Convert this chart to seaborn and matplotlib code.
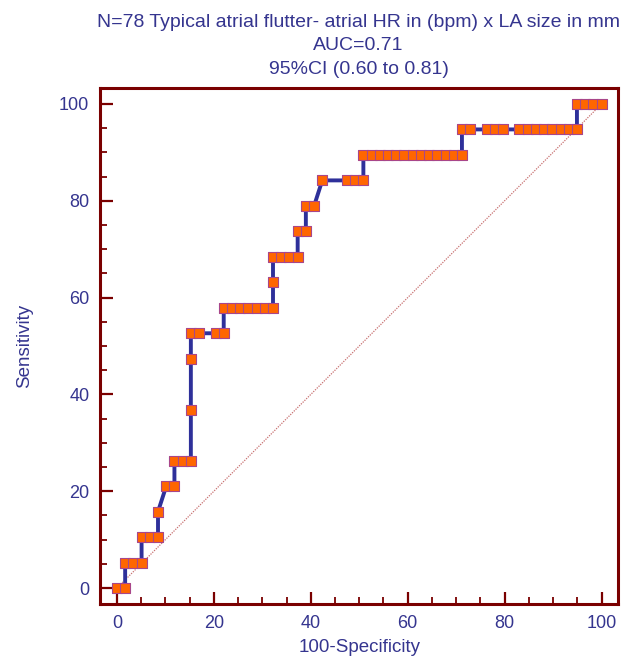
import numpy as np
import pandas as pd
import matplotlib
matplotlib.use('Agg')
import matplotlib.pyplot as plt
import seaborn as sns
from matplotlib.ticker import MultipleLocator

sns.set_style("white")
plt.rcParams['font.family'] = ['Liberation Sans', 'DejaVu Sans']

# ROC points (100-Specificity, Sensitivity)
fpr = [0.00, 1.69,
       1.69, 3.39, 5.08,
       5.08, 6.78, 8.47,
       8.47,
       10.17, 11.86,
       11.86, 13.56, 15.25,
       15.25, 15.25,
       15.25, 16.95, 20.34, 22.03,
       22.03, 23.73, 25.42, 27.12, 28.81, 30.51, 32.20,
       32.20,
       32.20, 33.90, 35.59, 37.29,
       37.29, 38.98,
       38.98, 40.68,
       42.37, 47.46, 49.15, 50.85,
       50.85, 52.54, 54.24, 55.93, 57.63, 59.32, 61.02, 62.71, 64.41, 66.10, 67.80, 69.49, 71.19,
       71.19, 72.88, 76.27, 77.97, 79.66, 83.05, 84.75, 86.44, 88.14, 89.83, 91.53, 93.22, 94.92,
       94.92, 96.61, 98.31, 100.00]
sens = [0.00, 0.00,
        5.26, 5.26, 5.26,
        10.53, 10.53, 10.53,
        15.79,
        21.05, 21.05,
        26.32, 26.32, 26.32,
        36.84, 47.37,
        52.63, 52.63, 52.63, 52.63,
        57.89, 57.89, 57.89, 57.89, 57.89, 57.89, 57.89,
        63.16,
        68.42, 68.42, 68.42, 68.42,
        73.68, 73.68,
        78.95, 78.95,
        84.21, 84.21, 84.21, 84.21,
        89.47, 89.47, 89.47, 89.47, 89.47, 89.47, 89.47, 89.47, 89.47, 89.47, 89.47, 89.47, 89.47,
        94.74, 94.74, 94.74, 94.74, 94.74, 94.74, 94.74, 94.74, 94.74, 94.74, 94.74, 94.74, 94.74,
        100.00, 100.00, 100.00, 100.00]

title_lines = ["N=78 Typical atrial flutter- atrial HR in (bpm) x LA size in mm",
               "AUC=0.71",
               "95%CI (0.60 to 0.81)"]

df = pd.DataFrame({'fpr': fpr, 'sens': sens})

text_col = '#35358f'
frame_col = '#7a0000'

fig = plt.figure(figsize=(6.38, 6.62), dpi=100)
ax = fig.add_axes([0.1575, 0.0876, 0.8112, 0.7795])

# chance diagonal
ax.plot([0, 100], [0, 100], color='#c87070', lw=0.9, ls=(0, (1, 1)), zorder=1)

sns.lineplot(data=df, x='fpr', y='sens', sort=False, estimator=None,
             color='#2e309a', lw=2.8, ax=ax, zorder=2)
sns.scatterplot(data=df, x='fpr', y='sens', marker='s', s=62,
                color='#ff6600', edgecolor='#a8468a', linewidth=0.8, ax=ax, zorder=3)

ax.set_xlim(-3.4, 103.4)
ax.set_ylim(-3.3, 103.3)
ax.xaxis.set_major_locator(MultipleLocator(20))
ax.xaxis.set_minor_locator(MultipleLocator(5))
ax.yaxis.set_major_locator(MultipleLocator(20))
ax.yaxis.set_minor_locator(MultipleLocator(5))
ax.tick_params(which='major', direction='in', length=9, width=1.6, color=frame_col,
               labelsize=13, labelcolor=text_col, pad=8)
ax.tick_params(which='minor', direction='in', length=5, width=1.3, color=frame_col)
ax.tick_params(axis='both', which='both', bottom=True, left=True, top=False, right=False)

for sp in ax.spines.values():
    sp.set_color(frame_col)
    sp.set_linewidth(2.2)

ax.set_xlabel('100-Specificity', fontsize=13.5, color=text_col, labelpad=5)
ax.set_ylabel('Sensitivity', fontsize=13.5, color=text_col, labelpad=19)

for i, line in enumerate(title_lines):
    fig.text(0.562, (662 - 27 - i * 23.5) / 662, line, ha='center', va='baseline',
             fontsize=14, color=text_col)

fig.savefig('out.png', dpi=100)
